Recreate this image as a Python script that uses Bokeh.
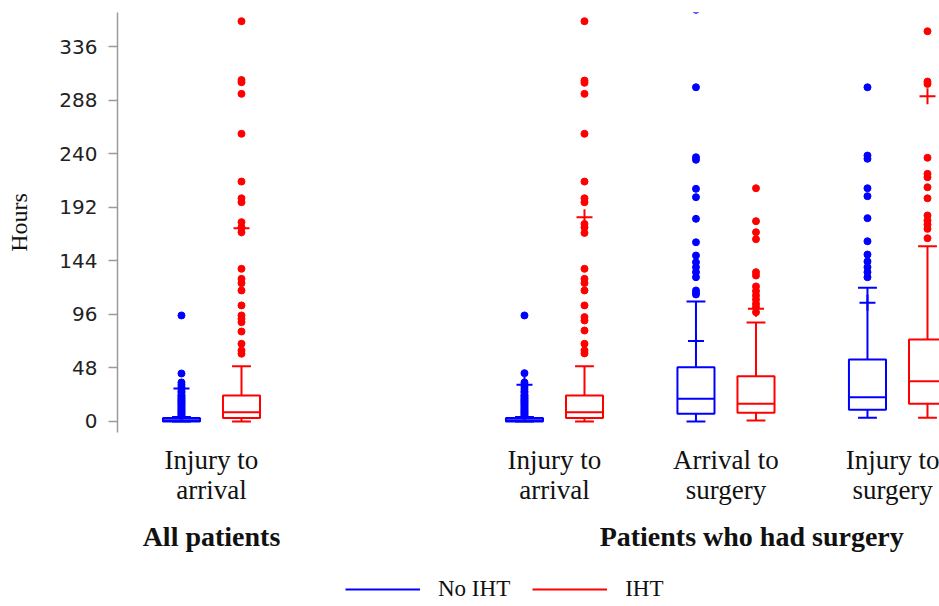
from bokeh.plotting import figure
from bokeh.layouts import column
from bokeh.models import FixedTicker, LinearAxis, Range1d, Legend, LegendItem
from bokeh.embed import file_html
from bokeh.resources import INLINE

# ---------------- data ----------------
groups = ["All patients", "Patients who had surgery"]
group_members = [["Injury to arrival"],
                 ["Injury to arrival", "Arrival to surgery", "Injury to surgery"]]
series = ["No IHT", "IHT"]
series_colors = ["#0000ff", "#ff0000"]
y_ticks = [0, 48, 96, 144, 192, 240, 288, 336]

# No IHT (one value per category, in the order of group_members)
noiht_low = [0, 0, 0, 3.3]
noiht_q1 = [0, 0, 7, 10.5]
noiht_median = [1, 1, 20.3, 21.8]
noiht_q3 = [3, 3, 48.6, 55.6]
noiht_high = [4, 4, 107.5, 119.8]
noiht_plus = [29.6, 33, 72, 106.3]
noiht_outliers = [
    [5, 6, 7, 8, 9, 10, 11, 12, 13, 14, 15, 16, 17, 18, 19, 20, 21, 22, 23, 24,
     26, 27, 29, 31, 33, 35, 43, 95],
    [5, 6, 7, 8, 9, 10, 11, 12, 13, 14, 15, 16, 17, 18, 19, 20, 21, 22, 23, 24,
     26, 27, 29, 31, 33, 35, 43.3, 95],
    [113.8, 115.5, 117.4, 129.3, 133.8, 138.2, 142.7, 148.7, 160.6, 181.6, 201,
     208.5, 234.5, 236.8, 299.5, 369],
    [129.3, 133.8, 138.3, 143.4, 149.6, 161.5, 182.2, 201.9, 209, 235.4, 238.3,
     299.5],
]

# IHT
iht_low = [0, 0, 0.9, 3.3]
iht_q1 = [3, 3, 7.8, 15.8]
iht_median = [8.3, 8.3, 15.8, 36.1]
iht_q3 = [23.3, 23.3, 40.6, 73.5]
iht_high = [49.5, 49.5, 88.7, 157.1]
iht_plus = [173.2, 183, 101, 291.5]
iht_outliers = [
    [60.7, 63.6, 69.6, 80.6, 89, 92, 95, 104, 117.4, 123.9, 127.8, 136.8, 169.6,
     174, 178.6, 196.5, 200, 215, 257.8, 293.6, 304, 306, 358.7],
    [61, 63.6, 69.6, 81.5, 90.5, 93.5, 104, 117.4, 124, 127.8, 136.8, 169, 174,
     177, 196.5, 200, 215, 257.8, 293.6, 303.5, 305.5, 358.7],
    [97.9, 102.4, 105.4, 109.3, 112.9, 116.8, 121, 130.8, 133.8, 163.4, 169.6,
     179.5, 209],
    [164.2, 172.6, 176.5, 180, 184.6, 200, 209.9, 218.9, 221.9, 236.3, 302.5,
     304.6, 349.7],
]

stats = [
    dict(low=noiht_low, q1=noiht_q1, med=noiht_median, q3=noiht_q3,
         high=noiht_high, plus=noiht_plus, out=noiht_outliers),
    dict(low=iht_low, q1=iht_q1, med=iht_median, q3=iht_q3,
         high=iht_high, plus=iht_plus, out=iht_outliers),
]

# ---------------- layout of categories ----------------
positions, cat_labels, group_centers = [], [], []
slot = 0
for gi, members in enumerate(group_members):
    if gi > 0:
        slot += 1  # empty slot between the two groups
    start = slot
    for m in members:
        positions.append(slot)
        cat_labels.append(m.replace(" to ", " to\n"))
        slot += 1
    group_centers.append((start + slot - 1) / 2)
group_centers[1] += 0.15

offsets = [-0.175, 0.175]
half_box = 0.108
half_cap = 0.055

p = figure(frame_width=822, frame_height=420, output_backend="svg", toolbar_location=None,
           x_range=Range1d(-0.548, 4.245), y_range=Range1d(-9.9, 366.5),
           min_border_left=117, min_border_right=0, min_border_top=12,
           min_border_bottom=128)
p.outline_line_color = None
p.xgrid.visible = False
p.ygrid.visible = False
p.background_fill_color = "white"
p.border_fill_color = "white"

# legend strip (its frame range lies away from the data, so only the legend shows)
lg = figure(width=939, height=46, output_backend="svg", toolbar_location=None,
            x_axis_type=None, y_axis_type=None,
            x_range=Range1d(-100, -99), y_range=Range1d(-100, -99), min_border=0)
lg.outline_line_color = None
lg.background_fill_color = "white"
lg.border_fill_color = "white"
items = []

for si, name in enumerate(series):
    c = series_colors[si]
    s = stats[si]
    xs = [pos + offsets[si] for pos in positions]
    p.quad(left=[x - half_box for x in xs], right=[x + half_box for x in xs],
           bottom=s["q1"], top=s["q3"], fill_color=None, line_color=c, line_width=2)
    p.segment(x0=xs + xs, y0=s["q3"] + s["q1"], x1=xs + xs, y1=s["high"] + s["low"],
              line_color=c, line_width=2)
    p.segment(x0=[x - half_cap for x in xs] * 2, x1=[x + half_cap for x in xs] * 2,
              y0=s["high"] + s["low"], y1=s["high"] + s["low"], line_color=c, line_width=2)
    p.segment(x0=[x - half_box for x in xs], x1=[x + half_box for x in xs],
              y0=s["med"], y1=s["med"], line_color=c, line_width=2)
    p.scatter(x=xs, y=s["plus"], marker="cross", size=16, line_color=c, line_width=2)
    ox, oy = [], []
    for x, vals in zip(xs, s["out"]):
        ox += [x] * len(vals)
        oy += vals
    p.scatter(x=ox, y=oy, marker="circle", size=7, fill_color=c, line_color=c)
    r = lg.segment(x0=xs, y0=s["q3"], x1=xs, y1=s["high"], line_color=c, line_width=2)
    items.append(LegendItem(label=name, renderers=[r]))

# y axis
ya = p.yaxis[0]
ya.ticker = FixedTicker(ticks=y_ticks)
ya.minor_tick_line_color = None
ya.major_tick_in = 0
ya.major_tick_out = 9
ya.axis_line_color = "#9a9a9a"
ya.axis_line_width = 1.5
ya.major_tick_line_color = "#9a9a9a"
ya.major_tick_line_width = 1.5
ya.major_label_text_font = "DejaVu Sans"
ya.major_label_text_font_size = "20px"
ya.major_label_text_color = "#222222"
ya.major_label_standoff = 11
ya.axis_label = "Hours"
ya.axis_label_text_font = "Liberation Serif"
ya.axis_label_text_font_size = "24px"
ya.axis_label_text_font_style = "normal"
ya.axis_label_text_color = "#111111"
ya.axis_label_standoff = 24

# category axis
xa = p.xaxis[0]
xa.ticker = FixedTicker(ticks=positions)
xa.major_label_overrides = {pos: lab for pos, lab in zip(positions, cat_labels)}
xa.axis_line_color = None
xa.major_tick_line_color = None
xa.minor_tick_line_color = None
xa.major_label_standoff = 6
xa.major_label_text_font = "Liberation Serif"
xa.major_label_text_font_size = "27px"
xa.major_label_text_line_height = 1.0
xa.major_label_text_color = "#111111"

# group axis
ga = LinearAxis(ticker=FixedTicker(ticks=group_centers),
                major_label_overrides={gc: g for gc, g in zip(group_centers, groups)},
                axis_line_color=None, major_tick_line_color=None,
                minor_tick_line_color=None, major_label_standoff=7,
                major_label_text_font="Liberation Serif",
                major_label_text_font_size="28px",
                major_label_text_font_style="bold",
                major_label_text_color="#111111")
p.add_layout(ga, "below")

legend = Legend(items=items, orientation="horizontal", location=(228, 4),
                border_line_color=None, background_fill_alpha=0,
                glyph_width=75, glyph_height=20, label_standoff=18, spacing=22,
                label_text_font="Liberation Serif", label_text_font_size="23px",
                label_text_color="#111111", padding=4, margin=0)
lg.add_layout(legend)

layout = column(p, lg, spacing=0)
open("out.html", "w").write(file_html(layout, INLINE))
